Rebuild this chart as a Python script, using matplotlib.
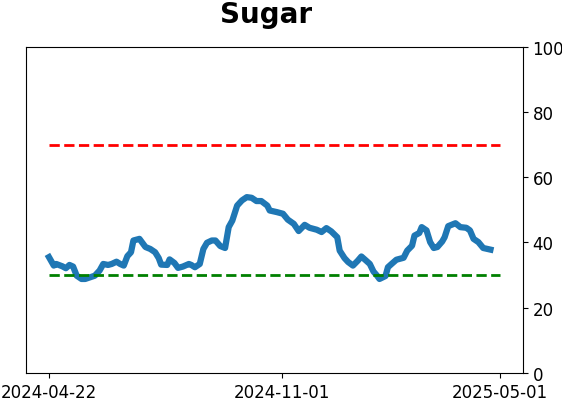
"""
Sugar oscillator chart with overbought/oversold reference lines
"""

import datetime as dt
import matplotlib
matplotlib.use('Agg')
import matplotlib.pyplot as plt
import matplotlib.dates as mdates

#---------------------------------------------------------------------------------------------------
# Input data
#---------------------------------------------------------------------------------------------------

start_date = dt.datetime(2024, 4, 22)
end_date = dt.datetime(2025, 5, 1)

# days since start_date
day_offset = [0, 4, 6, 11, 14, 17, 20, 23, 27, 30, 34, 38, 42, 45, 49, 52, 56, 59, 62, 65,
              68, 70, 75, 80, 84, 88, 91, 93, 98, 100, 104, 107, 111, 116, 118, 121, 125, 128,
              131, 135, 138, 142, 146, 149, 152, 156, 160, 164, 168, 172, 176, 181, 183, 189,
              194, 198, 203, 207, 212, 216, 222, 226, 230, 234, 239, 241, 245, 248, 252, 256,
              259, 263, 266, 269, 272, 274, 279, 281, 284, 288, 294, 297, 301, 303, 307, 309,
              313, 316, 319, 322, 326, 328, 331, 337, 341, 346, 349, 352, 356, 360, 366]

values = [35.5, 32.9, 33.4, 32.7, 32.1, 33.1, 32.6, 29.8, 28.8, 28.8, 29.3, 29.8, 31.4, 33.4,
          33.1, 33.4, 34.1, 33.4, 32.9, 35.8, 37.0, 40.6, 41.1, 38.6, 38.0, 37.0, 35.2, 33.2,
          33.1, 34.8, 33.7, 32.2, 32.6, 33.4, 33.1, 32.4, 33.4, 38.0, 39.9, 40.6, 40.6, 38.9,
          38.3, 44.7, 46.7, 51.3, 52.9, 53.9, 53.7, 52.7, 52.7, 51.3, 49.8, 49.3, 48.8, 47.0,
          45.7, 43.5, 45.4, 44.5, 43.9, 43.2, 44.4, 43.4, 41.6, 37.5, 35.2, 34.0, 32.9, 34.4,
          35.7, 34.4, 33.4, 31.1, 29.8, 28.8, 29.7, 32.4, 33.4, 34.7, 35.3, 37.5, 39.0, 42.1,
          42.9, 44.7, 43.7, 40.1, 38.3, 38.6, 40.3, 41.6, 45.0, 45.9, 44.7, 44.5, 43.7, 41.1,
          40.1, 38.3, 37.8]

upper_level = 70
lower_level = 30

tick_dates = [dt.datetime(2024, 4, 22), dt.datetime(2024, 11, 1), dt.datetime(2025, 5, 1)]

#---------------------------------------------------------------------------------------------------
# Main Program
#---------------------------------------------------------------------------------------------------

dates = [start_date + dt.timedelta(days=d) for d in day_offset]

fig = plt.figure(figsize=(5.62, 4.02), dpi=100)
ax = fig.add_axes([0.047, 0.07, 0.883, 0.811])

ax.plot(dates, values, c='#1f77b4', lw=4.5)
ax.plot([start_date, end_date], [upper_level, upper_level], c='red', ls='--', lw=2)
ax.plot([start_date, end_date], [lower_level, lower_level], c='green', ls='--', lw=2)

ax.set_ylim(0, 100)
ax.yaxis.tick_right()
ax.set_yticks([0, 20, 40, 60, 80, 100])
ax.set_xticks(tick_dates)
ax.xaxis.set_major_formatter(mdates.DateFormatter('%Y-%m-%d'))
ax.tick_params(axis='both', which='major', labelsize=12)

ax.set_title('Sugar', fontsize=20, weight='bold', pad=18, x=0.483)

plt.savefig('out.png', dpi=100)
plt.close()
